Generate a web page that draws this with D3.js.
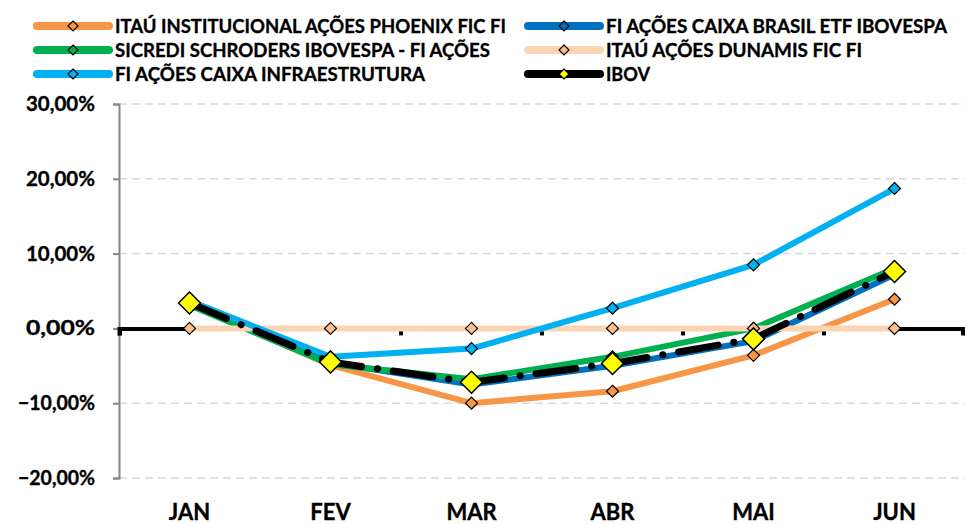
<!DOCTYPE html>
<html>
<head>
<meta charset="utf-8">
<script src="https://cdn.jsdelivr.net/npm/d3@7"></script>
<style>
  body { margin: 0; background: #fff; }
  svg { display: block; font-family: Lato, "Open Sans", sans-serif; font-weight: bold; }
  text { stroke: #000; stroke-width: 0.35; }
</style>
</head>
<body>
<svg id="chart" width="965" height="524"></svg>
<script>
// months and monthly returns (%)
var months = ["JAN", "FEV", "MAR", "ABR", "MAI", "JUN"];
var phoenix     = [3.3, -4.9, -10.0, -8.4, -3.6, 3.9];
var caixaBrasil = [3.2, -4.6, -7.5, -5.0, -1.7, 7.2];
var sicredi     = [3.1, -4.8, -6.8, -3.8, 0.0, 8.0];
var dunamis     = [0, 0, 0, 0, 0, 0];
var infra       = [3.7, -3.8, -2.7, 2.7, 8.5, 18.7];
var ibov        = [3.4, -4.5, -7.2, -4.7, -1.4, 7.6];
var yTicks = [-20, -10, 0, 10, 20, 30];

var seriesNames = [
  "ITAÚ INSTITUCIONAL AÇÕES PHOENIX FIC FI",
  "FI AÇÕES CAIXA BRASIL ETF IBOVESPA",
  "SICREDI SCHRODERS IBOVESPA - FI AÇÕES",
  "ITAÚ AÇÕES DUNAMIS FIC FI",
  "FI AÇÕES CAIXA INFRAESTRUTURA",
  "IBOV"
];

var series = [
  {name: seriesNames[0], values: phoenix,     color: "#F79646", mfill: "#F79646"},
  {name: seriesNames[1], values: caixaBrasil, color: "#0070C0", mfill: "#0070C0"},
  {name: seriesNames[2], values: sicredi,     color: "#00B050", mfill: "#00B050"},
  {name: seriesNames[3], values: dunamis,     color: "#FBD4B4", mfill: "#FAC090"},
  {name: seriesNames[4], values: infra,       color: "#00B0F0", mfill: "#00B0F0"},
  {name: seriesNames[5], values: ibov,        color: "#000000", mfill: "#FFFF00", ibov: true}
];

var svg = d3.select("#chart");
var margin = {top: 104, right: 0, bottom: 46, left: 119};
var W = 965, H = 524;

var x = d3.scaleBand().domain(months).range([margin.left, W - margin.right]).padding(0);
var y = d3.scaleLinear().domain([-20, 30]).range([H - margin.bottom, margin.top]);
function cx(i) { return x(months[i]) + x.bandwidth() / 2; }

// gridlines
svg.append("g").selectAll("line")
  .data(yTicks.filter(function(t) { return t != 0; }))
  .enter().append("line")
  .attr("x1", margin.left).attr("x2", W - margin.right)
  .attr("y1", function(d) { return y(d); }).attr("y2", function(d) { return y(d); })
  .attr("stroke", "#D9D9D9").attr("stroke-width", 1.5).attr("stroke-dasharray", "8,5");

// y axis
var yAxis = d3.axisLeft(y).tickValues(yTicks).tickSize(6).tickPadding(18)
  .tickFormat(function(d) { return d3.format(".2f")(d).replace(".", ",") + "%"; });
var gy = svg.append("g").attr("transform", "translate(" + margin.left + ",0)").call(yAxis);
gy.select(".domain").attr("stroke", "#868686").attr("stroke-width", 2);
gy.selectAll(".tick line").attr("stroke", "#868686").attr("stroke-width", 2);
gy.selectAll(".tick text")
  .attr("font-size", 20).attr("fill", "#000").attr("font-family", "Lato").attr("font-weight", "bold")
  .attr("textLength", function(d) { return d < 0 ? 77 : 69; })
  .attr("lengthAdjust", "spacingAndGlyphs");

// category axis on zero line
var xAxis = d3.axisBottom(x).tickSize(7).tickSizeOuter(7).tickFormat("");
var gx = svg.append("g").attr("transform", "translate(0," + y(0) + ")").call(xAxis);
gx.select(".domain").attr("stroke", "#000").attr("stroke-width", 4);
gx.selectAll(".tick").remove();
var bounds = months.map(function(m) { return x(m); }).concat([W - margin.right - 2]);
bounds[0] = margin.left + 1;
gx.selectAll(".bnd").data(bounds).enter().append("rect")
  .attr("x", function(d) { return d - 2; }).attr("y", 0).attr("width", 4).attr("height", 7)
  .attr("fill", "#000");

// month labels
svg.append("g").selectAll("text").data(months).enter().append("text")
  .attr("x", function(d, i) { return cx(i); }).attr("y", 520)
  .attr("text-anchor", "middle").attr("font-size", 22).attr("fill", "#000")
  .text(function(d) { return d; });

var line = d3.line().x(function(d, i) { return cx(i); }).y(function(d) { return y(d); });

function diamond(r) {
  return "M0," + (-r) + "L" + r + ",0L0," + r + "L" + (-r) + ",0Z";
}

series.forEach(function(s) {
  var g = svg.append("g");
  var p = g.append("path").datum(s.values).attr("d", line)
    .attr("fill", "none").attr("stroke", s.color)
    .attr("stroke-linejoin", "round");
  if (s.ibov) {
    p.attr("stroke-width", 7).attr("stroke-linecap", "round").attr("stroke-dasharray", "40,16,0.1,16");
  } else {
    p.attr("stroke-width", 6).attr("stroke-linecap", "round");
  }
  g.selectAll("path.m").data(s.values).enter().append("path").attr("class", "m")
    .attr("transform", function(d, i) { return "translate(" + cx(i) + "," + y(d) + ")"; })
    .attr("d", diamond(s.ibov ? 11 : 6))
    .attr("fill", s.mfill).attr("stroke", "#000").attr("stroke-width", s.ibov ? 1.5 : 1.2);
});

// legend
var legendPos = [
  {x: 34, y: 26, w: 391}, {x: 525, y: 26, w: 341},
  {x: 34, y: 50, w: 375}, {x: 525, y: 50, w: 256},
  {x: 34, y: 74, w: 310}, {x: 525, y: 74, w: 44}
];
series.forEach(function(s, i) {
  var lp = legendPos[i];
  var g = svg.append("g").attr("transform", "translate(" + lp.x + "," + lp.y + ")");
  g.append("line").attr("x1", 3).attr("x2", 75).attr("y1", 0).attr("y2", 0)
    .attr("stroke", s.color).attr("stroke-width", 8).attr("stroke-linecap", "round");
  g.append("path").attr("transform", "translate(39,0)").attr("d", diamond(5))
    .attr("fill", s.mfill).attr("stroke", "#000").attr("stroke-width", 1.2);
  g.append("text").attr("x", 81).attr("y", 7).attr("font-size", 19).attr("fill", "#000")
    .attr("textLength", lp.w).attr("lengthAdjust", "spacingAndGlyphs")
    .text(s.name);
});
</script>
</body>
</html>
